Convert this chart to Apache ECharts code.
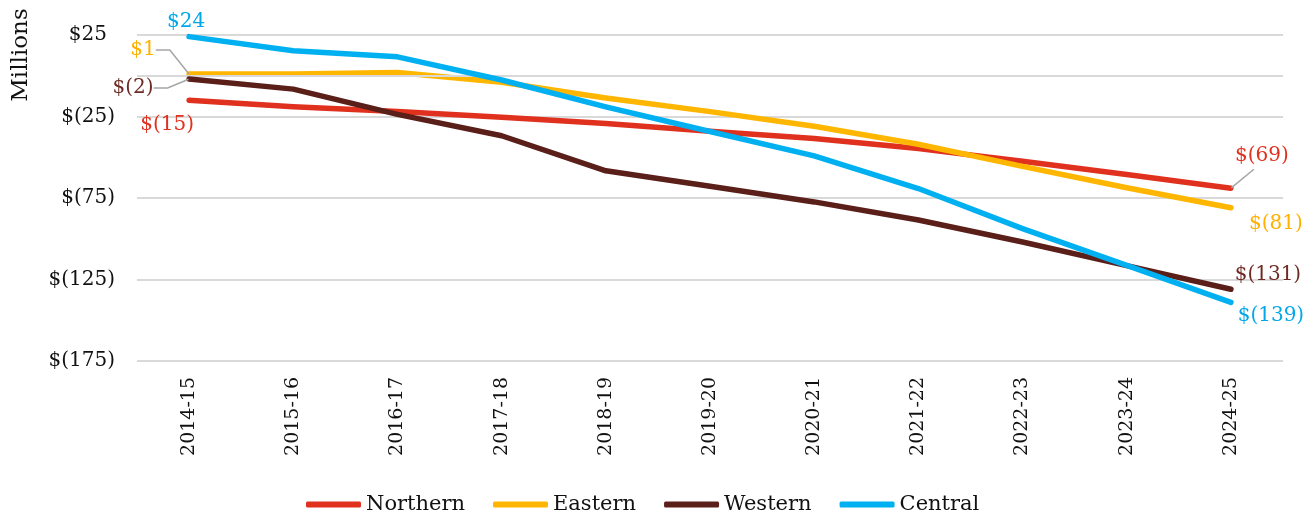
<!DOCTYPE html>
<html>
<head>
<meta charset="utf-8">
<script src="https://cdn.jsdelivr.net/npm/echarts@6/dist/echarts.min.js"></script>
<style>
  html, body { margin: 0; padding: 0; background: #fff; }
  #chart { width: 1315px; height: 521px; }
</style>
</head>
<body>
<div id="chart"></div>
<script>
const years = ['2014-15', '2015-16', '2016-17', '2017-18', '2018-19', '2019-20',
  '2020-21', '2021-22', '2022-23', '2023-24', '2024-25'];
const northern = [-15, -19, -22, -25.5, -29.3, -34, -38.5, -44.7, -52.5, -60.6, -69];
const eastern = [1, 1, 2, -4, -13.6, -22, -31, -42, -55.6, -68.7, -81];
const western = [-2, -8.2, -23.7, -36.8, -58.3, -67.8, -77.4, -88.5, -102, -116.5, -131];
const central = [24, 15.3, 11.6, -2.6, -19.1, -34.2, -49.2, -69.2, -93.8, -116.3, -139];
const yTicks = [25, -25, -75, -125, -175];

const FONT = '"DejaVu Serif", Georgia, serif';

const money = v => (v < 0 ? '$(' + Math.abs(Math.round(v)) + ')' : '$' + Math.round(v));

// label nudges for first / last point: [dx, dy, guide line]
// guide: number = elbow length beside the label; array = label padding so the
// guide attaches under the label
const nudges = {
  Northern: { first: [-22, 25, null], last: [23, -32.5, [0, 0, 7, 16]] },
  Eastern: { first: [-46, -24, 14], last: [45, 16, null] },
  Western: { first: [-56, 9, 14], last: [37, -14, null] },
  Central: { first: [-3, -15, null], last: [40, 13, null] }
};

const seriesDefs = [
  { name: 'Northern', data: northern, color: '#E0301E', labelColor: '#E0301E' },
  { name: 'Eastern', data: eastern, color: '#FFB600', labelColor: '#FFB000' },
  { name: 'Western', data: western, color: '#5B1F1A', labelColor: '#6E2A24' },
  { name: 'Central', data: central, color: '#00B0F0', labelColor: '#00A8E8' }
];

const last = years.length - 1;

const series = seriesDefs.map((s, si) => {
  const nd = nudges[s.name];
  const edgeOf = i => (i === 0 ? nd.first : i === last ? nd.last : null);
  return {
    name: s.name,
    type: 'line',
    data: s.data.map((v, i) => {
      const edge = edgeOf(i);
      if (!edge) return { value: v, label: { show: false }, labelLine: { show: false } };
      const guide = edge[2];
      const item = { value: v, label: { show: true }, labelLine: { show: guide !== null } };
      if (typeof guide === 'number') item.labelLine.length2 = guide;
      if (Array.isArray(guide)) {
        item.label.padding = guide;
        item.label.backgroundColor = 'rgba(255,255,255,0)';
        item.labelLine.length2 = 0;
      }
      return item;
    }),
    symbol: 'circle',
    symbolSize: 1,
    showSymbol: true,
    itemStyle: { color: s.color },
    lineStyle: { color: s.color, width: 5.5, cap: 'round', join: 'round' },
    label: {
      position: 'inside',
      color: s.labelColor,
      fontFamily: FONT,
      fontSize: 20,
      formatter: p => money(p.value)
    },
    labelLine: {
      lineStyle: { color: '#A6A6A6', width: 1.5 }
    },
    labelLayout: p => {
      const edge = edgeOf(p.dataIndex);
      return edge ? { dx: edge[0], dy: edge[1] } : {};
    },
    markLine: si === 0 ? {
      silent: true,
      symbol: 'none',
      label: { show: false },
      lineStyle: { color: '#D9D9D9', width: 2, type: 'solid' },
      data: [{ yAxis: 0 }]
    } : undefined,
    z: 3 + si
  };
});

const chart = echarts.init(document.getElementById('chart'));
chart.setOption({
  animation: false,
  backgroundColor: '#fff',
  grid: { left: 137, right: 32, top: 35, bottom: 160 },
  legend: {
    bottom: 1,
    left: 301,
    icon: 'roundRect',
    itemWidth: 55,
    itemHeight: 6,
    itemGap: 28,
    textStyle: { fontFamily: FONT, fontSize: 21, color: '#111' },
    data: seriesDefs.map(s => s.name)
  },
  graphic: [{
    type: 'text',
    x: 21,
    y: 55,
    rotation: Math.PI / 2,
    style: {
      text: 'Millions',
      font: '23px ' + FONT,
      fill: '#111',
      textAlign: 'center',
      textVerticalAlign: 'middle'
    }
  }],
  xAxis: {
    type: 'category',
    data: years,
    boundaryGap: true,
    axisLine: { show: false },
    axisTick: { show: false },
    axisLabel: {
      rotate: 90,
      margin: 16,
      fontFamily: FONT,
      fontSize: 19,
      color: '#111'
    },
    splitLine: { show: false }
  },
  yAxis: {
    type: 'value',
    min: -175,
    max: 25,
    interval: 50,
    axisLine: { show: false },
    axisTick: { show: false },
    axisLabel: {
      margin: 22,
      fontFamily: FONT,
      fontSize: 20,
      color: '#111',
      // positive values keep room for the closing bracket, like the accounting format
      formatter: v => (yTicks.indexOf(v) < 0 ? '' : v < 0 ? money(v) : '{pos|' + money(v) + '}'),
      rich: {
        pos: { fontFamily: FONT, fontSize: 20, color: '#111', padding: [0, 8, 0, 0] }
      }
    },
    splitLine: { lineStyle: { color: '#D9D9D9', width: 2 } }
  },
  series: series
});
</script>
</body>
</html>
